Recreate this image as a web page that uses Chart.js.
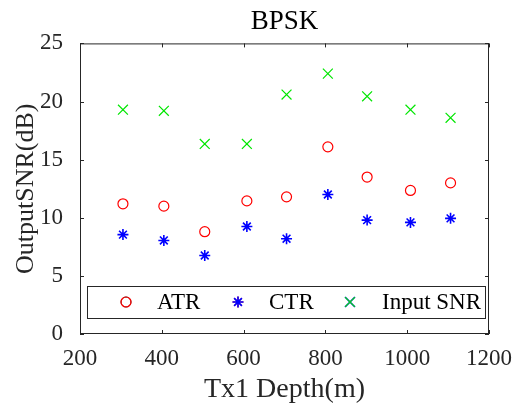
<!DOCTYPE html>
<html>
<head>
<meta charset="utf-8">
<script src="https://cdn.jsdelivr.net/npm/chart.js@4/dist/chart.umd.min.js"></script>
<style>
  html, body { margin: 0; padding: 0; background: #fff; }
  #wrap { width: 520px; height: 412px; }
</style>
</head>
<body>
<div id="wrap"><canvas id="chart" width="520" height="412"></canvas></div>
<script>
// ── BPSK output SNR vs Tx1 depth ─────────────────────────────

const depths = [305, 405, 505, 608, 705, 806, 902, 1008, 1106];
const atrSnr = [11.2, 11.0, 8.8, 11.45, 11.8, 16.1, 13.5, 12.35, 13.0];
const ctrSnr = [8.55, 8.05, 6.75, 9.25, 8.2, 12.0, 9.8, 9.6, 9.95];
const inputSnr = [19.3, 19.2, 16.35, 16.35, 20.6, 22.4, 20.45, 19.3, 18.6];

const xTicks = [200, 400, 600, 800, 1000, 1200];
const yTicks = [0, 5, 10, 15, 20, 25];

const FONT = "'Liberation Serif', 'Times New Roman', serif";
const INK = "#262626";

const toPoints = (ys) => depths.map((x, i) => ({ x, y: ys[i] }));

// box, inward ticks and the in-plot legend (MATLAB look)
const matlabAxes = {
  id: "matlabAxes",
  afterDatasetsDraw(chart) {
    const { ctx, chartArea: a, scales } = chart;
    ctx.save();
    ctx.strokeStyle = INK;
    ctx.lineWidth = 1;
    ctx.strokeRect(a.left + 0.5, a.top + 0.5, a.right - a.left - 1, a.bottom - a.top - 1);

    const tl = 4;
    ctx.beginPath();
    xTicks.forEach((v) => {
      const px = Math.round(scales.x.getPixelForValue(v)) + 0.5;
      ctx.moveTo(px, a.bottom); ctx.lineTo(px, a.bottom - tl);
      ctx.moveTo(px, a.top); ctx.lineTo(px, a.top + tl);
    });
    yTicks.forEach((v) => {
      const py = Math.round(scales.y.getPixelForValue(v)) + 0.5;
      ctx.moveTo(a.left, py); ctx.lineTo(a.left + tl, py);
      ctx.moveTo(a.right, py); ctx.lineTo(a.right - tl, py);
    });
    ctx.stroke();

    // legend
    const bx = a.left + 7, by = a.bottom - 48, bw = a.right - a.left - 11, bh = 32;
    ctx.fillStyle = "#fff";
    ctx.fillRect(bx, by, bw, bh);
    ctx.strokeStyle = INK;
    ctx.strokeRect(bx + 0.5, by + 0.5, bw, bh);

    const cy = by + bh / 2;
    const marks = [46, 158, 270];
    const texts = [77, 189, 302];
    ctx.font = "23px " + FONT;
    ctx.textBaseline = "middle";
    ctx.textAlign = "left";
    chart.data.datasets.forEach((ds, i) => {
      Chart.helpers.drawPoint(ctx, {
        pointStyle: ds.pointStyle,
        radius: ds.pointRadius,
        rotation: 0,
        borderWidth: ds.borderWidth,
      }, a.left + marks[i], cy);
      ctx.strokeStyle = ds.borderColor;
      ctx.lineWidth = ds.borderWidth;
      ctx.stroke();
      ctx.fillStyle = "#000";
      ctx.fillText(ds.label, a.left + texts[i], cy + 1);
    });
    ctx.restore();
  },
};

new Chart(document.getElementById("chart"), {
  type: "scatter",
  data: {
    datasets: [
      {
        label: "ATR",
        data: toPoints(atrSnr),
        pointStyle: "circle",
        pointRadius: 5,
        borderColor: "#ff0000",
        backgroundColor: "rgba(0,0,0,0)",
        borderWidth: 1.2,
      },
      {
        label: "CTR",
        data: toPoints(ctrSnr),
        pointStyle: "star",
        pointRadius: 5.5,
        borderColor: "#0000ff",
        backgroundColor: "#0000ff",
        borderWidth: 1.6,
      },
      {
        label: "Input SNR",
        data: toPoints(inputSnr),
        pointStyle: "crossRot",
        pointRadius: 7,
        borderColor: "#00e600",
        backgroundColor: "#00e600",
        borderWidth: 1.2,
      },
    ],
  },
  options: {
    responsive: false,
    animation: false,
    layout: { padding: { left: 0, right: 31, top: 0, bottom: 0 } },
    scales: {
      x: {
        type: "linear",
        min: 200,
        max: 1200,
        afterBuildTicks: (s) => { s.ticks = xTicks.map((v) => ({ value: v })); },
        afterFit: (s) => { s.height = 78; },
        grid: { display: false },
        border: { display: false },
        ticks: {
          color: INK,
          padding: 3,
          maxRotation: 0,
          font: { family: FONT, size: 23 },
          callback: (v) => String(v),
        },
        title: {
          display: true,
          text: "Tx1 Depth(m)",
          color: INK,
          padding: { top: 0, bottom: 6 },
          font: { family: FONT, size: 28 },
        },
      },
      y: {
        min: 0,
        max: 25,
        afterBuildTicks: (s) => { s.ticks = yTicks.map((v) => ({ value: v })); },
        afterFit: (s) => { s.width = 80; },
        grid: { display: false },
        border: { display: false },
        ticks: {
          color: INK,
          padding: 9,
          font: { family: FONT, size: 23 },
          callback: (v) => String(v),
        },
        title: {
          display: true,
          text: "OutputSNR(dB)",
          color: INK,
          padding: { top: 11, bottom: 0 },
          font: { family: FONT, size: 26 },
        },
      },
    },
    plugins: {
      legend: { display: false },
      tooltip: { enabled: false },
      title: {
        display: true,
        fullSize: false,
        text: "BPSK",
        color: "#000",
        padding: { top: 6, bottom: 5 },
        font: { family: FONT, size: 27, weight: "normal" },
      },
    },
  },
  plugins: [matlabAxes],
});
</script>
</body>
</html>
